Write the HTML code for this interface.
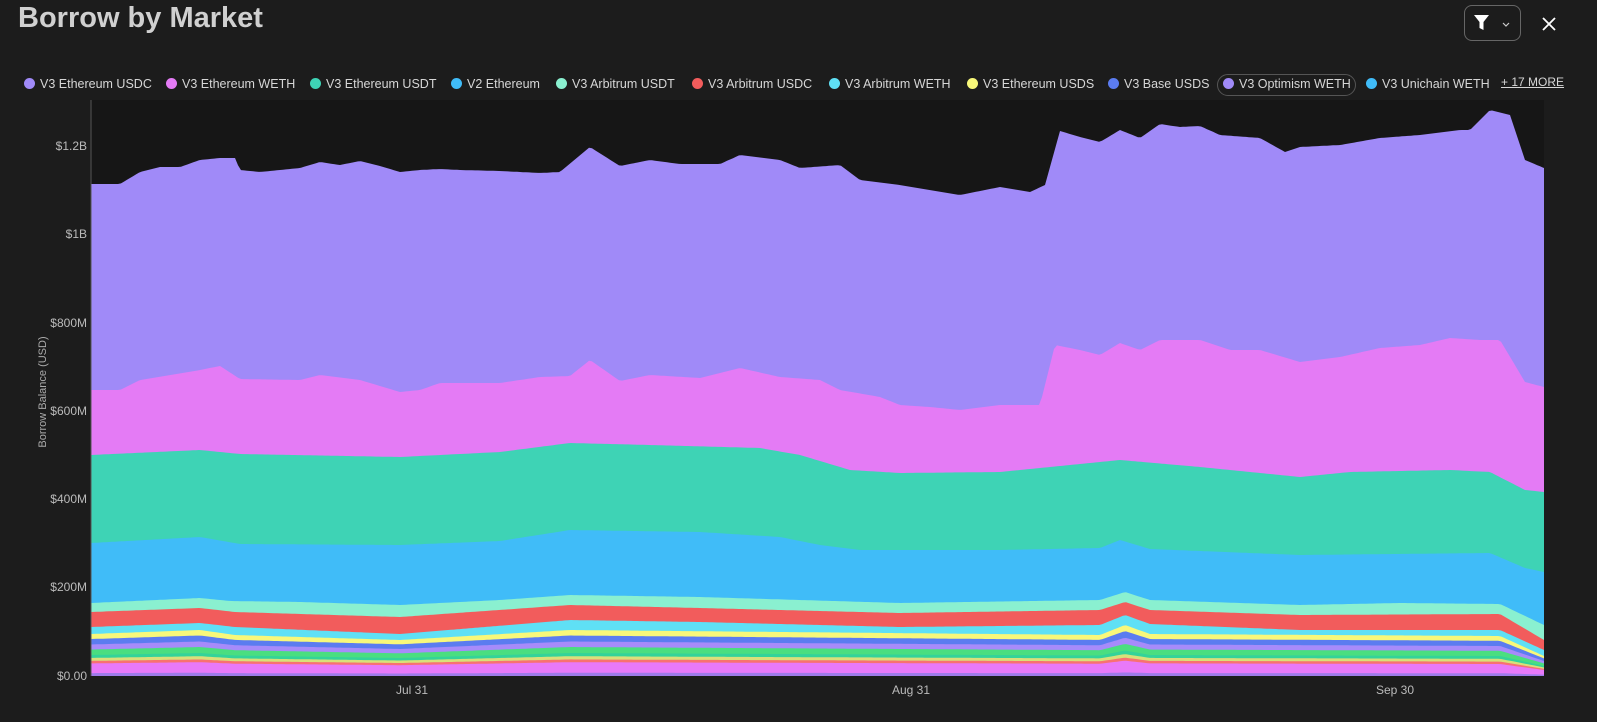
<!DOCTYPE html>
<html><head><meta charset="utf-8"><style>
body{margin:0;width:1597px;height:722px;background:#1c1c1c;overflow:hidden;font-family:"Liberation Sans",sans-serif;color:#ddd;position:relative}
.t{position:absolute;left:18px;top:2px;font-size:29px;font-weight:bold;color:#d0d0d0}
.lg{position:absolute;top:77px;font-size:12.5px;color:#d6d6d6;white-space:nowrap}
.lg i{display:inline-block;width:11px;height:11px;border-radius:50%;vertical-align:-1px;margin-right:5px}
.yl{position:absolute;right:1510px;font-size:12px;color:#bbb;text-align:right}
.xl{position:absolute;top:683px;font-size:12px;color:#bbb}
</style></head><body>
<div class="t">Borrow by Market</div>
<div style="position:absolute;left:1464px;top:5px;width:55px;height:34px;border:1px solid #666;border-radius:8px"></div>
<svg style="position:absolute;left:1474px;top:14px" width="40" height="18"><path d="M0 1h15l-5.5 7v8l-4-2v-6z" fill="#fff"/><path d="M29 9l3 3 3-3" stroke="#ccc" fill="none" stroke-width="1.2"/></svg>
<svg style="position:absolute;left:1541px;top:16px" width="16" height="16"><path d="M2 2l12 12M14 2L2 14" stroke="#fff" stroke-width="1.8"/></svg>
<div style="position:absolute;left:1217px;top:74px;width:137px;height:20px;border:1px solid #555;border-radius:11px"></div>
<div class="lg" style="left:24px"><i style="background:#a08af8"></i>V3 Ethereum USDC</div>
<div class="lg" style="left:166px"><i style="background:#e47bf5"></i>V3 Ethereum WETH</div>
<div class="lg" style="left:310px"><i style="background:#3ed3b5"></i>V3 Ethereum USDT</div>
<div class="lg" style="left:451px"><i style="background:#40bcf8"></i>V2 Ethereum</div>
<div class="lg" style="left:556px"><i style="background:#8af0d0"></i>V3 Arbitrum USDT</div>
<div class="lg" style="left:692px"><i style="background:#f25c5c"></i>V3 Arbitrum USDC</div>
<div class="lg" style="left:829px"><i style="background:#5fe0f5"></i>V3 Arbitrum WETH</div>
<div class="lg" style="left:967px"><i style="background:#f8f87a"></i>V3 Ethereum USDS</div>
<div class="lg" style="left:1108px"><i style="background:#5b7cf0"></i>V3 Base USDS</div>
<div class="lg" style="left:1223px"><i style="background:#a08af8"></i>V3 Optimism WETH</div>
<div class="lg" style="left:1366px"><i style="background:#40bcf8"></i>V3 Unichain WETH</div>
<div class="lg" style="left:1501px;top:75px;text-decoration:underline;font-size:12px">+ 17 MORE</div>
<div class="yl" style="top:139px">$1.2B</div>
<div class="yl" style="top:227px">$1B</div>
<div class="yl" style="top:316px">$800M</div>
<div class="yl" style="top:404px">$600M</div>
<div class="yl" style="top:492px">$400M</div>
<div class="yl" style="top:580px">$200M</div>
<div class="yl" style="top:669px">$0.00</div>
<div style="position:absolute;left:-17px;top:386px;transform:rotate(-90deg);font-size:11px;color:#aaa;width:120px;text-align:center">Borrow Balance (USD)</div>
<div class="xl" style="left:396px">Jul 31</div>
<div class="xl" style="left:892px">Aug 31</div>
<div class="xl" style="left:1376px">Sep 30</div>
<svg id="c" style="position:absolute;left:0;top:0" width="1597" height="722"></svg>
<script>
function P(s){const a=s.trim().split(/\s+/).map(p=>p.split(':').map(Number));return a;}
function f(pts,x){for(let i=0;i<pts.length-1;i++){if(x>=pts[i][0]&&x<=pts[i+1][0]){const t=(x-pts[i][0])/(pts[i+1][0]-pts[i][0]);return pts[i][1]+t*(pts[i+1][1]-pts[i][1]);}}return x<pts[0][0]?pts[0][1]:pts[pts.length-1][1];}
const T=P("91:184 120:184 140:172 160:167 180:167 200:160 220:158 235:158 240:170 260:172 300:168 320:162 340:165 360:161 380:166 400:172 420:170 440:169 460:170 500:171 540:173 560:172 590:147 620:166 650:160 680:164 720:164 740:155 780:160 800:168 840:165 860:180 900:185 930:190 960:195 1000:187 1030:192 1045:185 1060:131 1080:137 1100:142 1120:130 1140:138 1160:124 1180:127 1200:126 1220:135 1260:138 1285:152 1300:147 1340:145 1380:138 1420:135 1460:130 1470:130 1490:110 1510:115 1525:160 1544:168");
const PK=P("91:390 120:390 140:380 200:370 220:366 240:379 300:380 320:375 360:380 400:392 420:390 440:383 500:383 540:377 570:376 590:360 620:381 650:375 700:378 740:368 780:377 820:380 840:390 880:397 900:405 930:407 960:410 1000:405 1040:405 1055:345 1080:350 1100:355 1120:343 1140:350 1160:340 1200:340 1230:350 1260:350 1300:362 1340:357 1380:348 1420:345 1450:338 1480:340 1500:340 1525:382 1544:387");
const TE=P("91:455 200:450 240:454 400:457 500:452 570:443 650:445 760:448 800:455 850:470 900:473 1000:472 1050:467 1120:460 1200:467 1300:477 1350:472 1450:470 1490:472 1525:490 1544:492");
const BL=P("91:543 200:537 240:544 400:545 500:541 570:530 700:532 780:537 820:545 860:550 1000:550 1100:548 1120:540 1150:549 1250:553 1300:555 1490:553 1525:568 1544:572");
const MI=P("91:603 200:598 230:601 300:602 400:605 500:600 570:595 700:597 800:600 900:603 1100:600 1125:592 1150:600 1300:605 1400:603 1500:604 1544:625");
const RD=P("91:612 200:608 235:612 400:617 570:605 700:608 900:613 1100:610 1125:602 1150:610 1300:615 1500:614 1544:640");
const CY=P("91:627 200:623 235:627 400:634 570:620 700:622 900:627 1100:625 1125:615 1150:624 1300:630 1500:630 1544:650");
const YE=P("91:634 200:630 235:635 400:640 570:630 1100:635 1125:625 1150:634 1500:636 1544:656");
const xs=[];for(let x=91;x<=1544;x+=3)xs.push(x);if(xs[xs.length-1]!==1544)xs.push(1544);
const B=676;
const small=[[0,'#f8f87a'],[.12,'#5b7cf0'],[.25,'#a78bfa'],[.37,'#4ade80'],[.5,'#34d399'],[.57,'#d9e07a'],[.64,'#f87171'],[.7,'#e879f9'],[.93,'#9f7aea']];
const layers=[[x=>f(T,x),'#a08af8'],[x=>f(PK,x),'#e47bf5'],[x=>f(TE,x),'#3ed3b5'],[x=>f(BL,x),'#40bcf8'],[x=>f(MI,x),'#8af0d0'],[x=>f(RD,x),'#f25c5c'],[x=>f(CY,x),'#5fe0f5']];
small.forEach(([fr,c])=>layers.push([x=>{const y=f(YE,x);return y+(B-y)*fr;},c]));
let h='<rect x="91" y="100" width="1453" height="576" fill="#161616"/>';
layers.forEach(([fn,c])=>{let d='M91 '+B;xs.forEach(x=>d+=' L'+x+' '+fn(x).toFixed(1));d+=' L1544 '+B+'Z';h+='<path d="'+d+'" fill="'+c+'"/>';});
h+='<line x1="91" y1="100" x2="91" y2="676" stroke="#555"/>';
document.getElementById('c').innerHTML=h;
</script>
</body></html>
